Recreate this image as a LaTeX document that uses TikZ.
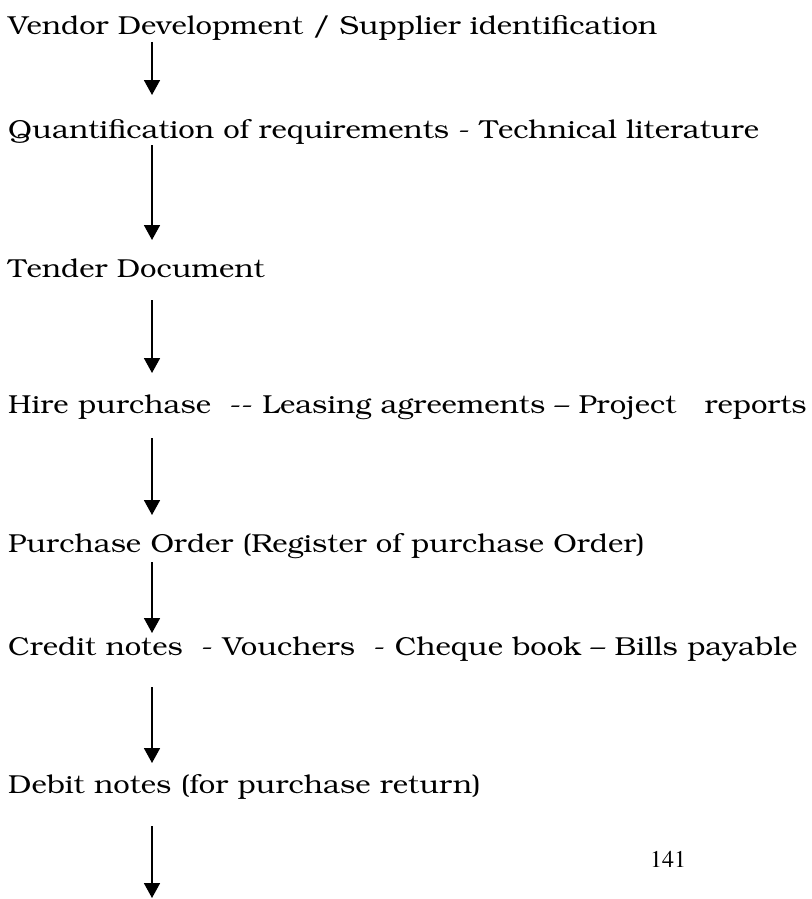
\documentclass[tikz,border=0pt]{standalone}
\usepackage[T1]{fontenc}
\usepackage{bookman}
\usepackage{tikz}
\usetikzlibrary{arrows.meta}

\tikzset{
	step text/.style={anchor=base west, inner sep=0pt, xscale=1.125, font=\fontsize{26}{30}\selectfont},
	flow/.style={line width=1.8pt, -{Triangle[width=16pt,length=15pt]}}
}

\begin{document}
\begin{tikzpicture}[x=1pt, y=-1pt]
		\useasboundingbox (0,0) rectangle (811,899);
		
		% Steps
		\node[step text] (vendor) at (8,35) {Vendor Development / Supplier identification};
		\node[step text] (quant) at (8,138) {Quantification of requirements - Technical literature};
		\node[step text] (tender) at (8,277) {Tender Document};
		\node[step text] (hire) at (8,413) {Hire purchase \ -{}- Leasing agreements -- Project \ \ reports};
		\node[step text] (order) at (8,552) {Purchase Order (Register of purchase Order)};
		\node[step text] (credit) at (8,655) {Credit notes \ - Vouchers \ - Cheque book -- Bills payable};
		\node[step text] (debit) at (8,793) {Debit notes (for purchase return)};
		\coordinate (tail) at (152,898);
		
		% Arrows
		\draw[flow] ([xshift=144pt,yshift=-7pt]vendor.base west) -- ([xshift=144pt,yshift=43pt]quant.base west);
		\draw[flow] ([xshift=144pt,yshift=-7pt]quant.base west) -- ([xshift=144pt,yshift=37pt]tender.base west);
		\draw[flow] ([xshift=144pt,yshift=-23pt]tender.base west) -- ([xshift=144pt,yshift=40pt]hire.base west);
		\draw[flow] ([xshift=144pt,yshift=-25pt]hire.base west) -- ([xshift=144pt,yshift=37pt]order.base west);
		\draw[flow] ([xshift=144pt,yshift=-10pt]order.base west) -- ([xshift=144pt,yshift=22pt]credit.base west);
		\draw[flow] ([xshift=144pt,yshift=-32pt]credit.base west) -- ([xshift=144pt,yshift=30pt]debit.base west);
		\draw[flow] ([xshift=144pt,yshift=-33pt]debit.base west) -- (tail);
		
		% Page number
		\node[anchor=base, inner sep=0pt, font=\fontfamily{ptm}\fontsize{24}{28}\selectfont] (page) at (668,867) {141};
	\end{tikzpicture}
\end{document}
